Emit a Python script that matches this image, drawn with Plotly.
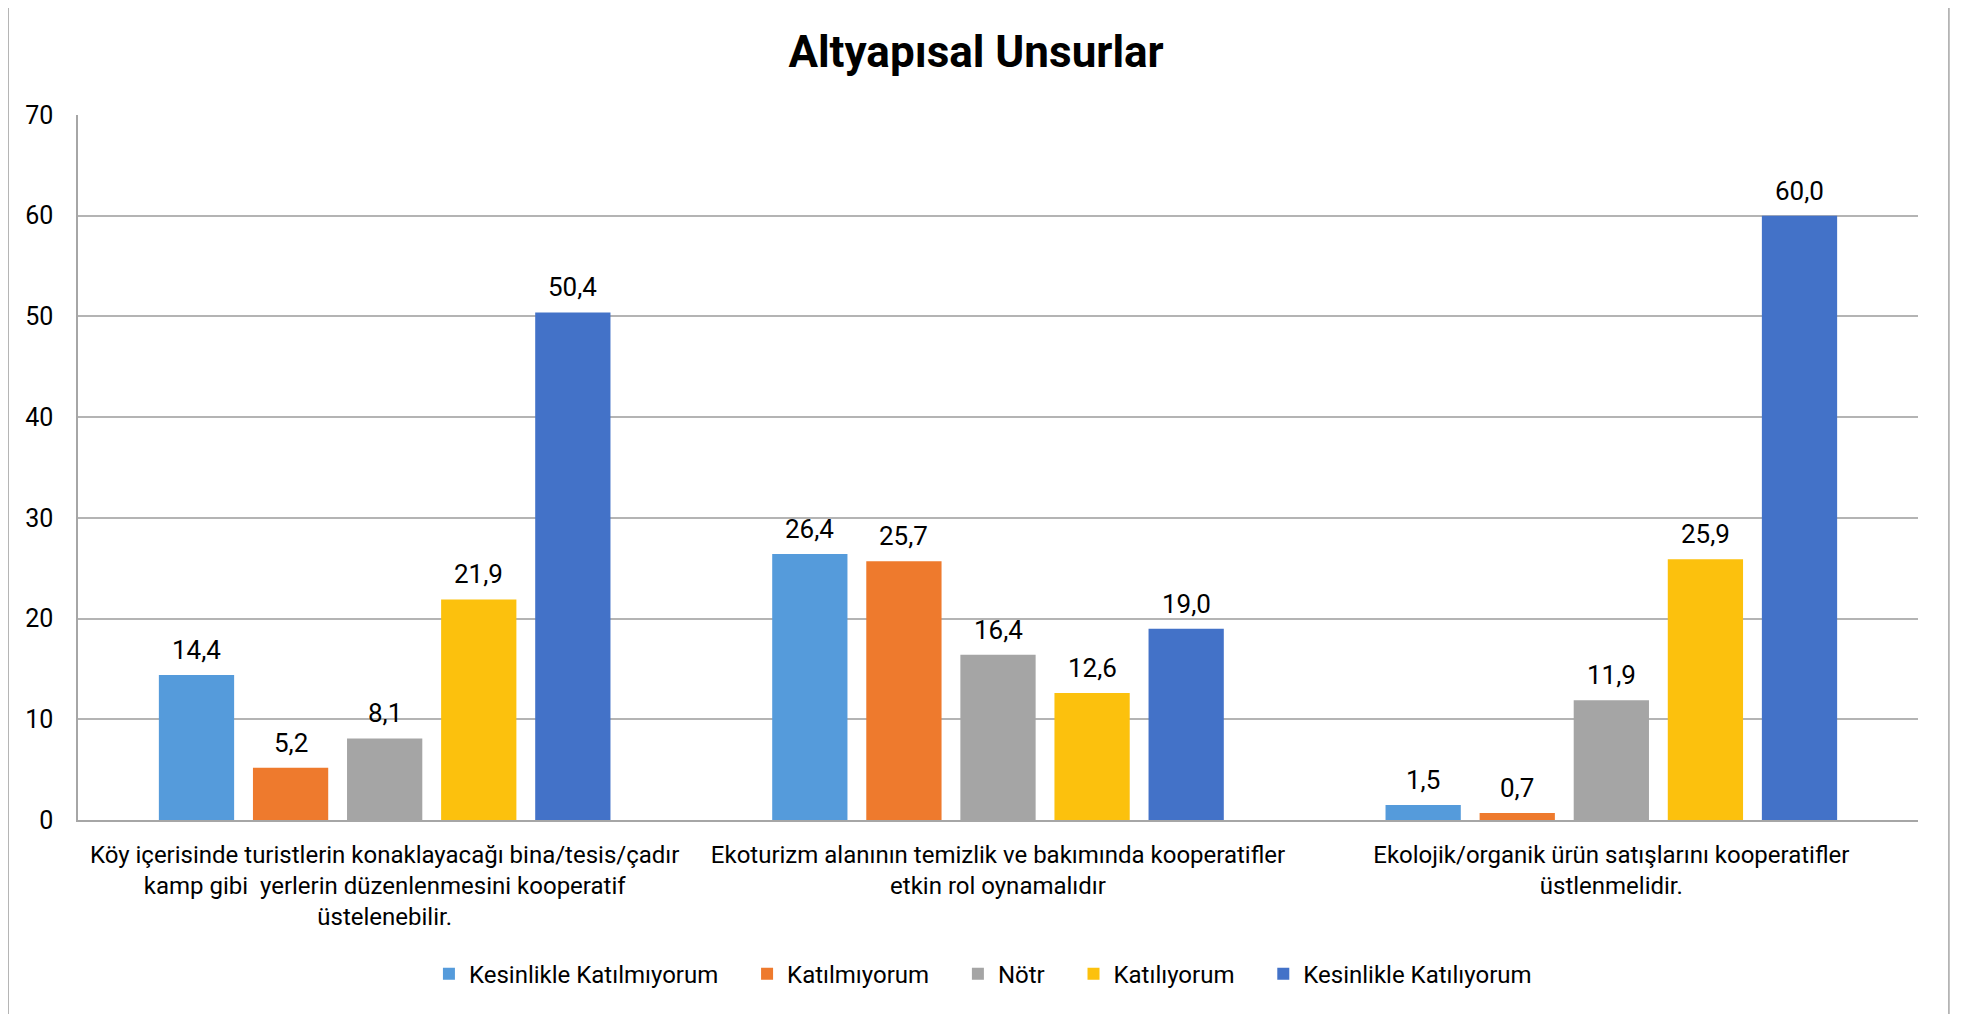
import plotly.graph_objects as go

title = "Altyapısal Unsurlar"
categories = [
    "Köy içerisinde turistlerin konaklayacağı bina/tesis/çadır<br>kamp gibi  yerlerin düzenlenmesini kooperatif<br>üstelenebilir.",
    "Ekoturizm alanının temizlik ve bakımında kooperatifler<br>etkin rol oynamalıdır",
    "Ekolojik/organik ürün satışlarını kooperatifler<br>üstlenmelidir.",
]
series_names = [
    "Kesinlikle Katılmıyorum",
    "Katılmıyorum",
    "Nötr",
    "Katılıyorum",
    "Kesinlikle Katılıyorum",
]
kesinlikle_katilmiyorum = [14.4, 26.4, 1.5]
katilmiyorum = [5.2, 25.7, 0.7]
notr = [8.1, 16.4, 11.9]
katiliyorum = [21.9, 12.6, 25.9]
kesinlikle_katiliyorum = [50.4, 19.0, 60.0]
series_values = [kesinlikle_katilmiyorum, katilmiyorum, notr, katiliyorum, kesinlikle_katiliyorum]
colors = ["#559BDB", "#EE7A2D", "#A5A5A5", "#FCC10D", "#4372C8"]
y_ticks = [0, 10, 20, 30, 40, 50, 60, 70]

FONT = "Roboto, Liberation Sans, sans-serif"
W, H = 1966, 1014
ML, MR, MT, MB = 70, 56, 107, 202
BARGAP, GROUPGAP = 0.233, 0.2
PAD = "\u00a0" * 4  # extra spacing between legend entries

fig = go.Figure()
for name, vals, col in zip(series_names, series_values, colors):
    fig.add_trace(go.Bar(
        name=name + PAD,
        x=categories,
        y=vals,
        marker=dict(color=col, line=dict(width=0)),
        cliponaxis=False,
        hovertemplate=name + ": %{y}<extra></extra>",
    ))

# data labels above each bar (placed on the data coordinates, shifted to the bar slot)
n = len(series_names)
slot_px = (W - ML - MR) / len(categories) * (1 - BARGAP) / n
annotations = []
for i, vals in enumerate(series_values):
    for cat, v in zip(categories, vals):
        annotations.append(dict(
            x=cat, y=v, xref="x", yref="y",
            text=f"{v:.1f}".replace(".", ","),
            showarrow=False,
            xanchor="center", yanchor="middle",
            xshift=(i - (n - 1) / 2) * slot_px,
            yshift=25,
            font=dict(family=FONT, size=26, color="#000000"),
        ))

fig.update_layout(
    width=W,
    height=H,
    margin=dict(l=ML, r=MR, t=MT, b=MB, pad=0),
    paper_bgcolor="white",
    plot_bgcolor="white",
    barmode="group",
    bargap=BARGAP,
    bargroupgap=GROUPGAP,
    font=dict(family=FONT, color="#000000"),
    title=dict(
        text="<b>" + title + "</b>",
        font=dict(family=FONT, size=44, color="#000000"),
        x=0.4924, xanchor="center",
        y=0.9566, yanchor="middle", xref="container", yref="container",
    ),
    legend=dict(
        orientation="h",
        x=0.502, xanchor="center", xref="container",
        y=0.0473, yanchor="middle", yref="container",
        font=dict(family=FONT, size=24, color="#000000"),
        itemsizing="constant",
        traceorder="normal",
    ),
    xaxis=dict(
        showline=True, linecolor="#A6A6A6", linewidth=2,
        ticks="", tickfont=dict(family=FONT, size=24, color="#000000"),
        ticklabelstandoff=12,
        showgrid=False,
    ),
    yaxis=dict(
        range=[0, 70], tickvals=y_ticks,
        showline=True, linecolor="#A6A6A6", linewidth=1.5,
        showgrid=True, gridcolor="#B4B4B4", gridwidth=1.5,
        ticks="", tickfont=dict(family=FONT, size=25, color="#000000"),
        ticklabelstandoff=18,
        zeroline=False,
    ),
    annotations=annotations,
    shapes=[dict(
        type="rect", xref="paper", yref="paper",
        x0=-0.038, x1=1.0168, y0=-0.45, y1=1.157,
        line=dict(color="#A6A6A6", width=1.5), fillcolor="rgba(0,0,0,0)",
        layer="below",
    )],
)

fig.write_html("out.html")
